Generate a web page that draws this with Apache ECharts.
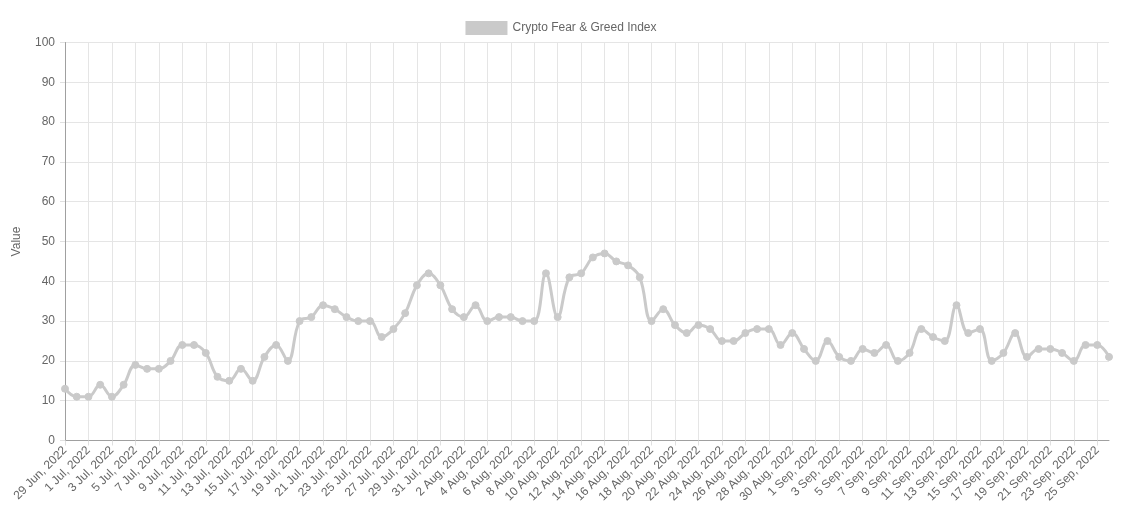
<!DOCTYPE html>
<html>
<head>
<meta charset="utf-8">
<script src="https://cdn.jsdelivr.net/npm/echarts@6/dist/echarts.min.js"></script>
<style>html,body{margin:0;padding:0;background:#fff}#c{width:1122px;height:521px}</style>
</head>
<body>
<div id="c"></div>
<script>
const seriesName = "Crypto Fear & Greed Index";
const monthNames = ["Jan","Feb","Mar","Apr","May","Jun","Jul","Aug","Sep","Oct","Nov","Dec"];
const startDate = [2022, 5, 29]; // 29 Jun 2022
const values = [
  13,11,11,14,11,14,19,18,18,20,
  24,24,22,16,15,18,15,21,24,20,
  30,31,34,33,31,30,30,26,28,32,
  39,42,39,33,31,34,30,31,31,30,
  30,42,31,41,42,46,47,45,44,41,
  30,33,29,27,29,28,25,25,27,28,
  28,24,27,23,20,25,21,20,23,22,
  24,20,22,28,26,25,34,27,28,20,
  22,27,21,23,23,22,20,24,24,21
];
const yTicks = [0,10,20,30,40,50,60,70,80,90,100];

const categories = [];
for (let i = 0; i < values.length; i++) {
  const d = new Date(Date.UTC(startDate[0], startDate[1], startDate[2] + i));
  categories.push(d.getUTCDate() + " " + monthNames[d.getUTCMonth()] + ", " + d.getUTCFullYear());
}

const chart = echarts.init(document.getElementById('c'));
const font = "'Liberation Sans', Arial, Helvetica, sans-serif";
chart.setOption({
  animation: false,
  textStyle: { fontFamily: font },
  legend: {
    top: 16, left: 'center',
    itemWidth: 42, itemHeight: 14, itemGap: 6,
    textStyle: { color: '#666', fontSize: 12, fontFamily: font },
    icon: 'rect',
    data: [{ name: seriesName, icon: 'rect' }]
  },
  grid: { left: 65, right: 13, top: 42.5, bottom: 80.5, containLabel: false },
  xAxis: {
    type: 'category',
    data: categories,
    boundaryGap: false,
    axisLine: { show: true, lineStyle: { color: '#a0a0a0', width: 1 } },
    axisTick: { show: true, interval: 1, length: 5, lineStyle: { color: '#e0e0e0' } },
    axisLabel: { interval: 1, rotate: 45, color: '#666', fontSize: 12, fontFamily: font, margin: 8 },
    splitLine: { show: true, interval: 1, lineStyle: { color: '#e5e5e5', width: 1 } }
  },
  yAxis: {
    type: 'value',
    min: yTicks[0], max: yTicks[yTicks.length - 1], interval: 10,
    name: 'Value', nameLocation: 'middle', nameGap: 42,
    nameTextStyle: { color: '#666', fontSize: 12, fontFamily: font },
    axisLine: { show: true, lineStyle: { color: '#a0a0a0', width: 1 } },
    axisTick: { show: true, length: 5, lineStyle: { color: '#e0e0e0' } },
    axisLabel: { color: '#666', fontSize: 12, fontFamily: font, margin: 10 },
    splitLine: { show: true, lineStyle: { color: '#e5e5e5', width: 1 } }
  },
  series: [{
    name: seriesName,
    type: 'line',
    data: values,
    smooth: 0.4,
    symbol: 'circle',
    symbolSize: 7,
    showAllSymbol: true,
    lineStyle: { color: '#cacaca', width: 3 },
    itemStyle: { color: '#cacaca', borderColor: '#cacaca' }
  }]
});
</script>
</body>
</html>
